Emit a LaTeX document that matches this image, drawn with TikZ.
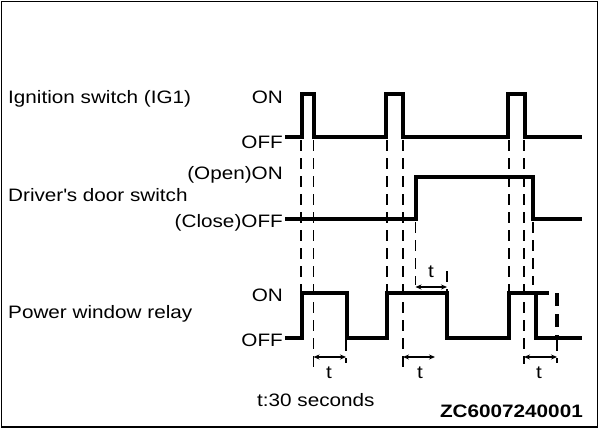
\documentclass[tikz,border=0pt]{standalone}
\usepackage{fontspec}
\setmainfont{Liberation Sans}[FakeStretch=1.15]
\usetikzlibrary{arrows.meta}

\tikzset{
  signal/.style={line width=3.6pt, line join=miter},
  guide/.style={line width=1.2pt, dash pattern=on 11pt off 7pt},
  span/.style={line width=1.2pt, {Stealth[length=6pt,width=5pt]}-{Stealth[length=6pt,width=5pt]}},
  lbl/.style={inner sep=0pt, font=\fontsize{18}{20}\selectfont, text height=12.9pt, text depth=0pt},
}

\begin{document}
\begin{tikzpicture}[x=1pt,y=-1pt]
    \def\xStart{285}
    \def\xEnd{582}

    % Frame
    \useasboundingbox (0,0) rectangle (600,429);
    \draw[line width=1.3pt] (1.7,1.7) rectangle (597.3,427);

    % Signal names
    \node[lbl, anchor=west] (ig) at (8,97) {Ignition switch (IG1)};
    \node[lbl, anchor=east] (igOn) at (283,97) {ON};
    \node[lbl, anchor=east] (igOff) at (283,142) {OFF};
    \node[lbl, anchor=west] (door) at (8,195) {Driver\textquotesingle s door switch};
    \node[lbl, anchor=east] (doorOn) at (283,173) {(Open)ON};
    \node[lbl, anchor=east] (doorOff) at (283,221) {(Close)OFF};
    \node[lbl, anchor=west] (relay) at (8,312.5) {Power window relay};
    \node[lbl, anchor=east] (relayOn) at (283,295.5) {ON};
    \node[lbl, anchor=east] (relayOff) at (283,340) {OFF};

    % Guide lines
    \foreach \x/\ya/\yb in {301/140/293, 313.5/140/368, 346/340/363,
                            387/140/293, 403/140/368, 415.5/222/285, 447/271/291,
                            509/140/293, 524/140/364, 533/222/285, 557/340/363}
        \draw[guide] (\x,\ya) -- (\x,\yb);

    % Ignition switch
    \draw[signal] (\xStart,137) -- (302,137) -- (302,94) -- (314,94) -- (314,137)
        -- (386,137) -- (386,94) -- (403,94) -- (403,137)
        -- (508,137) -- (508,94) -- (525,94) -- (525,137) -- (\xEnd,137);

    % Driver's door switch
    \draw[signal] (\xStart,219) -- (416,219) -- (416,177) -- (533,177) -- (533,219) -- (\xEnd,219);

    % Power window relay
    \draw[signal] (\xStart,338) -- (302,338) -- (302,293) -- (347,293) -- (347,338)
        -- (387,338) -- (387,293) -- (447,293) -- (447,338)
        -- (509,338) -- (509,293) -- (536,293) -- (536,338) -- (\xEnd,338);
    \draw[signal, dash pattern=on 13pt off 8pt] (536,293) -- (557,293) -- (557,338);

    % Timer spans
    \coordinate (tA1) at (313.5,357); \coordinate (tA2) at (346,357);
    \coordinate (tB1) at (403,357);   \coordinate (tB2) at (435,357);
    \coordinate (tC1) at (415.5,287); \coordinate (tC2) at (447,287);
    \coordinate (tD1) at (524,357);   \coordinate (tD2) at (557,357);
    \foreach \s in {A,B,C,D}
        \draw[span] (t\s1) -- (t\s2);
    \node[lbl] (tA) at (329,372) {t};
    \node[lbl] (tB) at (420,372) {t};
    \node[lbl] (tC) at (431,271) {t};
    \node[lbl] (tD) at (539,372) {t};

    % Notes
    \node[lbl, anchor=west] (note) at (257,400) {t:30 seconds};
    \node[lbl, anchor=east, font=\fontsize{18}{20}\selectfont\bfseries] (code) at (583,411) {ZC6007240001};

\end{tikzpicture}
\end{document}
